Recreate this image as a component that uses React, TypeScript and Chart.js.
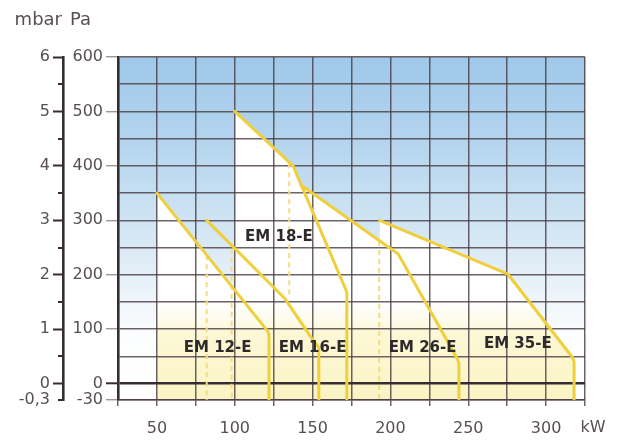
import { useEffect, useRef } from 'react';
import { Chart, registerables } from 'chart.js';

Chart.register(...registerables);

// ---- axis ticks (kW / Pa / mbar) ----
const kwTicks = [25, 50, 75, 100, 125, 150, 175, 200, 225, 250, 275, 300, 325];
const kwLabels = [50, 100, 150, 200, 250, 300];
const paTicks = [-30, 0, 50, 100, 150, 200, 250, 300, 350, 400, 450, 500, 550, 600];
const paLabels = [-30, 0, 100, 200, 300, 400, 500, 600];
const mbarTicks = [-0.3, 0, 1, 2, 3, 4, 5, 6];
const mbarLabels = ['-0,3', '0', '1', '2', '3', '4', '5', '6'];
const mbarMinorTicks = [-0.3, 0.5, 1.5, 2.5, 3.5, 4.5, 5.5];

// ---- burner curves: [kW, Pa] ----
const em12 = [[50, 350], [121, 97], [122, 90], [122, -30]];
const em16 = [[82, 300], [132, 157], [149, 85], [154, 66], [154, -30]];
const em18 = [[100, 500], [137.5, 400], [171, 175], [172, 168], [172, -30]];
const em26 = [[142.5, 365], [205, 238], [242.5, 48], [244, 38], [244, -30]];
const em35 = [[193, 300], [275.5, 201], [317, 48], [318, 40], [318, -30]];

// ---- dashed start lines: [kW, Pa] ----
const dash12 = [[82, 236], [82, -30]];
const dash16 = [[98, 248], [98, -30]];
const dash18 = [[135, 405], [135, 160]];
const dash26 = [[192.8, 262], [192.8, -30]];

// ---- background span ----
const bgSpan = [[25, 600], [325, 600]];

// ---- curve labels ----
const labelNames = ['EM 12-E', 'EM 16-E', 'EM 18-E', 'EM 26-E', 'EM 35-E'];
const labelKw = [89, 150, 128.4, 220.7, 281.8];
const labelPa = [66, 66, 269, 66, 73];

const YELLOW = '#efcf3c';
const DASH = '#f2dd82';
const GRID = 'rgba(72,58,66,0.8)';
const DARK = '#352d31';
const TEXT = '#57504f';
const FONT = '"DejaVu Sans", sans-serif';

const pts = (a: number[][]) => a.map(([x, y]) => ({ x, y }));

function grad(chart: any, stops: [number, string][]) {
  const y = chart.scales?.y;
  const area = chart.chartArea;
  if (!y || !area) return stops[stops.length - 1][1];
  const top = y.getPixelForValue(600);
  const bot = y.getPixelForValue(-30);
  const g = chart.ctx.createLinearGradient(0, top, 0, bot);
  stops.forEach(([v, c]) => g.addColorStop(Math.min(1, Math.max(0, (600 - v) / 630)), c));
  return g;
}

const skyStops: [number, string][] = [
  [600, '#9fc8e9'],
  [450, '#b3d4ee'],
  [300, '#cfe4f3'],
  [180, '#e9f2f9'],
  [90, '#fcfdfe'],
  [-30, '#ffffff'],
];
const underStops: [number, string][] = [
  [600, '#ffffff'],
  [150, '#ffffff'],
  [115, '#fdfbea'],
  [95, '#fcf8d6'],
  [-30, '#faf4c4'],
];

function curve(data: number[][], filled: boolean) {
  return {
    data: pts(data),
    borderColor: YELLOW,
    borderWidth: 3,
    pointRadius: 0,
    tension: 0,
    borderJoinStyle: 'round',
    borderCapStyle: 'round',
    fill: filled ? 'start' : false,
    backgroundColor: (c: any) => grad(c.chart, underStops),
    order: 1,
  };
}

function dashed(data: number[][]) {
  return {
    data: pts(data),
    borderColor: DASH,
    borderWidth: 2,
    borderDash: [5, 4],
    pointRadius: 0,
    fill: false,
    order: 2,
  };
}

const decor = {
  id: 'decor',
  afterDatasetsDraw(chart: any) {
    const { ctx } = chart;
    const x = chart.scales.x;
    const y = chart.scales.y;
    ctx.save();
    ctx.fillStyle = '#2e292b';
    ctx.font = `bold 15px ${FONT}`;
    ctx.textAlign = 'center';
    ctx.textBaseline = 'middle';
    labelNames.forEach((t, i) => {
      ctx.fillText(t, x.getPixelForValue(labelKw[i]), y.getPixelForValue(labelPa[i]));
    });
    ctx.restore();
  },
  afterDraw(chart: any) {
    const { ctx } = chart;
    const m = chart.scales.mbar;
    const x = chart.scales.x;
    ctx.save();
    ctx.strokeStyle = DARK;
    ctx.lineWidth = 2;
    mbarMinorTicks.forEach((v) => {
      const py = Math.round(m.getPixelForValue(v));
      ctx.beginPath();
      ctx.moveTo(m.right - 5, py);
      ctx.lineTo(m.right, py);
      ctx.stroke();
    });
    ctx.fillStyle = TEXT;
    ctx.font = `18px ${FONT}`;
    ctx.textBaseline = 'alphabetic';
    ctx.textAlign = 'right';
    ctx.fillText('mbar', m.right - 1, 25);
    ctx.textAlign = 'left';
    ctx.fillText('Pa', m.right + 7, 25);
    ctx.font = `16px ${FONT}`;
    ctx.textAlign = 'center';
    ctx.textBaseline = 'middle';
    ctx.fillText('kW', x.right + 8, x.top + 6 + 12 + 9.6);
    ctx.restore();
  },
};

export default function App() {
  const ref = useRef<HTMLCanvasElement>(null);

  useEffect(() => {
    if (!ref.current) return;
    const chart = new Chart(ref.current, {
      type: 'line',
      data: {
        datasets: [
          curve(em12, true),
          curve(em16, false),
          curve(em18, true),
          curve(em26, true),
          curve(em35, true),
          dashed(dash12),
          dashed(dash16),
          dashed(dash18),
          dashed(dash26),
          {
            data: pts(bgSpan),
            borderWidth: 0,
            borderColor: 'rgba(0,0,0,0)',
            pointRadius: 0,
            fill: 'start',
            backgroundColor: (c: any) => grad(c.chart, skyStops),
            order: 10,
          },
        ] as any,
      },
      options: {
        responsive: false,
        maintainAspectRatio: false,
        devicePixelRatio: 1,
        animation: false,
        events: [],
        layout: { padding: { top: 57, right: 34, bottom: 0, left: 0 } },
        plugins: {
          legend: { display: false },
          tooltip: { enabled: false },
          filler: { drawTime: 'beforeDraw' },
        } as any,
        scales: {
          x: {
            type: 'linear',
            position: 'bottom',
            min: 25,
            max: 325,
            afterBuildTicks: (s: any) => {
              s.ticks = kwTicks.map((v) => ({ value: v }));
            },
            afterFit: (s: any) => {
              s.height = 41;
            },
            ticks: {
              autoSkip: false,
              maxRotation: 0,
              padding: 13,
              color: TEXT,
              font: { family: FONT, size: 16 },
              callback: (v: any) => (kwLabels.includes(Number(v)) ? String(v) : ''),
            },
            grid: { color: GRID, lineWidth: 1.5, tickLength: 6, tickColor: GRID, tickWidth: 1.5 },
            border: { display: true, color: GRID, width: 1.5 },
          },
          y: {
            type: 'linear',
            position: 'left',
            weight: 0,
            min: -30,
            max: 600,
            afterBuildTicks: (s: any) => {
              s.ticks = paTicks.map((v) => ({ value: v }));
            },
            afterFit: (s: any) => {
              s.width = 55;
            },
            ticks: {
              autoSkip: false,
              padding: 3,
              color: TEXT,
              font: { family: FONT, size: 16 },
              callback: (v: any) => (paLabels.includes(Number(v)) ? String(v) : ''),
            },
            grid: {
              color: (c: any) => (c.tick && c.tick.value === 0 ? DARK : GRID),
              lineWidth: (c: any) => (c.tick && c.tick.value === 0 ? 2.6 : 1.5),
              tickLength: 12,
              tickColor: (c: any) =>
                c.tick && c.tick.value === 0
                  ? DARK
                  : c.tick && paLabels.includes(c.tick.value)
                  ? '#8d8488'
                  : 'rgba(0,0,0,0)',
              tickWidth: (c: any) => (c.tick && c.tick.value === 0 ? 2 : 1.2),
            },
            border: { display: true, color: DARK, width: 2.6 },
          },
          mbar: {
            type: 'linear',
            position: 'left',
            weight: 1,
            min: -0.3,
            max: 6,
            afterBuildTicks: (s: any) => {
              s.ticks = mbarTicks.map((v) => ({ value: v }));
            },
            afterFit: (s: any) => {
              s.width = 63;
            },
            ticks: {
              autoSkip: false,
              padding: 3,
              color: TEXT,
              font: { family: FONT, size: 16 },
              callback: (v: any) => {
                const i = mbarTicks.indexOf(Number(v));
                return i >= 0 ? mbarLabels[i] : '';
              },
            },
            grid: {
              drawOnChartArea: false,
              tickLength: 10,
              tickWidth: 2,
              tickColor: (c: any) => (c.tick && c.tick.value === -0.3 ? 'rgba(0,0,0,0)' : DARK),
            },
            border: { display: true, color: DARK, width: 2.6 },
          },
        },
      } as any,
      plugins: [decor],
    });
    return () => chart.destroy();
  }, []);

  return (
    <div style={{ position: 'absolute', left: 0, top: 0, width: 619, height: 441, background: '#ffffff' }}>
      <canvas ref={ref} width={619} height={441} style={{ display: 'block', width: 619, height: 441 }} />
    </div>
  );
}
